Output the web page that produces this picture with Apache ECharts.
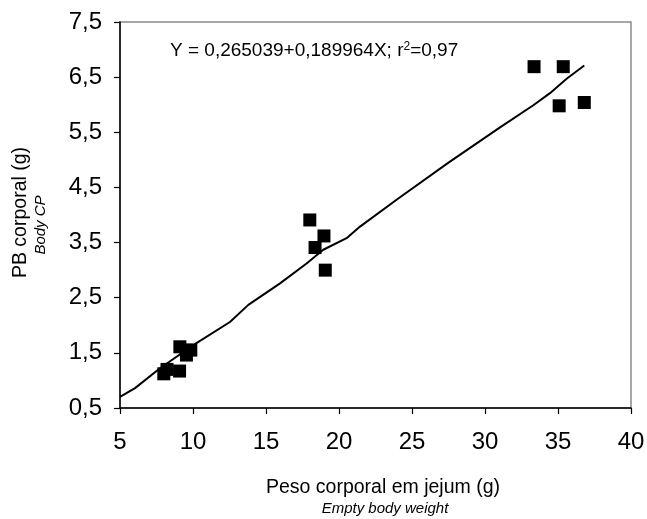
<!DOCTYPE html>
<html>
<head>
<meta charset="utf-8">
<script src="https://cdn.jsdelivr.net/npm/echarts@6/dist/echarts.min.js"></script>
<style>html,body{margin:0;padding:0;background:#fff}#c{width:647px;height:519px}</style>
</head>
<body>
<div id="c"></div>
<script>
// Observed points
var obsX = [8.0, 8.22, 9.08, 9.1, 9.55, 9.85, 9.55, 18.0, 18.97, 18.36, 19.06, 33.36, 35.36, 35.08, 36.8];
var obsY = [1.12, 1.2, 1.17, 1.61, 1.55, 1.55, 1.46, 3.91, 3.62, 3.41, 3.0, 6.69, 6.69, 5.98, 6.04];
// Fitted curve as drawn
var fitX = [5, 6.03, 7.74, 10.02, 12.53, 13.79, 15.96, 17.78, 18.92, 20.52, 21.44, 24.06, 27.5, 31.03, 33.31, 34.45, 35.59, 36.8];
var fitY = [0.70, 0.86, 1.22, 1.64, 2.06, 2.37, 2.76, 3.12, 3.37, 3.58, 3.79, 4.30, 4.95, 5.59, 5.99, 6.21, 6.47, 6.71];
var xTicks = {min: 5, max: 40, interval: 5};
var yTicks = {min: 0.5, max: 7.5, interval: 1};
var eqText = 'Y = 0,265039+0,189964X; r{s|2}=0,97';

var chart = echarts.init(document.getElementById('c'));
var ff = 'Liberation Sans, Arial, sans-serif';
chart.setOption({
  animation: false,
  backgroundColor: '#fff',
  grid: {left: 120, right: 16, top: 22, bottom: 111, show: true, borderColor: '#8a8a8a', borderWidth: 1.5,
    backgroundColor: 'transparent', containLabel: false, outerBoundsMode: 'none'},
  xAxis: {
    type: 'value', min: xTicks.min, max: xTicks.max, interval: xTicks.interval,
    splitLine: {show: false},
    axisLine: {show: true, onZero: false, lineStyle: {color: '#000', width: 1.5}},
    axisTick: {show: true, inside: false, length: 6, lineStyle: {color: '#000', width: 1.2}},
    axisLabel: {fontFamily: ff, fontSize: 24, color: '#000', margin: 22},
    name: '{a|Peso corporal em jejum (g)}\n{b|Empty body weight}',
    nameLocation: 'middle', nameGap: 69,
    nameTextStyle: {align: 'center', rich: {
      a: {fontFamily: ff, fontSize: 19.5, color: '#000', lineHeight: 22, padding: [0,0,0,15]},
      b: {fontFamily: ff, fontSize: 15, fontStyle: 'italic', color: '#000', lineHeight: 20, padding: [0,0,0,19]}
    }}
  },
  yAxis: {
    type: 'value', min: yTicks.min, max: yTicks.max, interval: yTicks.interval,
    splitLine: {show: false},
    axisLine: {show: true, onZero: false, lineStyle: {color: '#000', width: 1.5}},
    axisTick: {show: true, inside: false, length: 6, lineStyle: {color: '#000', width: 1.2}},
    axisLabel: {fontFamily: ff, fontSize: 24, color: '#000', margin: 18,
      formatter: function (v) { return v.toFixed(1).replace('.', ','); }},
    name: '{a|PB corporal (g)}\n{b|Body CP}',
    nameLocation: 'middle', nameGap: 70, nameRotate: 90,
    nameTextStyle: {align: 'center', rich: {
      a: {fontFamily: ff, fontSize: 19.5, color: '#000', lineHeight: 22, padding: [0,0,0,5]},
      b: {fontFamily: ff, fontSize: 15, fontStyle: 'italic', color: '#000', lineHeight: 18, padding: [0,20,0,0]}
    }}
  },
  graphic: [{
    type: 'text', left: 170, top: 41,
    style: {text: eqText, fill: '#000', font: '19px ' + ff,
      rich: {s: {fontSize: 12, verticalAlign: 'top', lineHeight: 12, fontFamily: ff, padding: [0,0,9,0]}}}
  }],
  series: [{
    type: 'line', data: fitX.map(function (x, i) { return [x, fitY[i]]; }),
    showSymbol: false, symbol: 'none', smooth: false,
    lineStyle: {color: '#000', width: 2}, z: 2
  }, {
    type: 'scatter', data: obsX.map(function (x, i) { return [x, obsY[i]]; }),
    symbol: 'rect', symbolSize: 13, itemStyle: {color: '#000', opacity: 1}, z: 3
  }]
});
</script>
</body>
</html>
